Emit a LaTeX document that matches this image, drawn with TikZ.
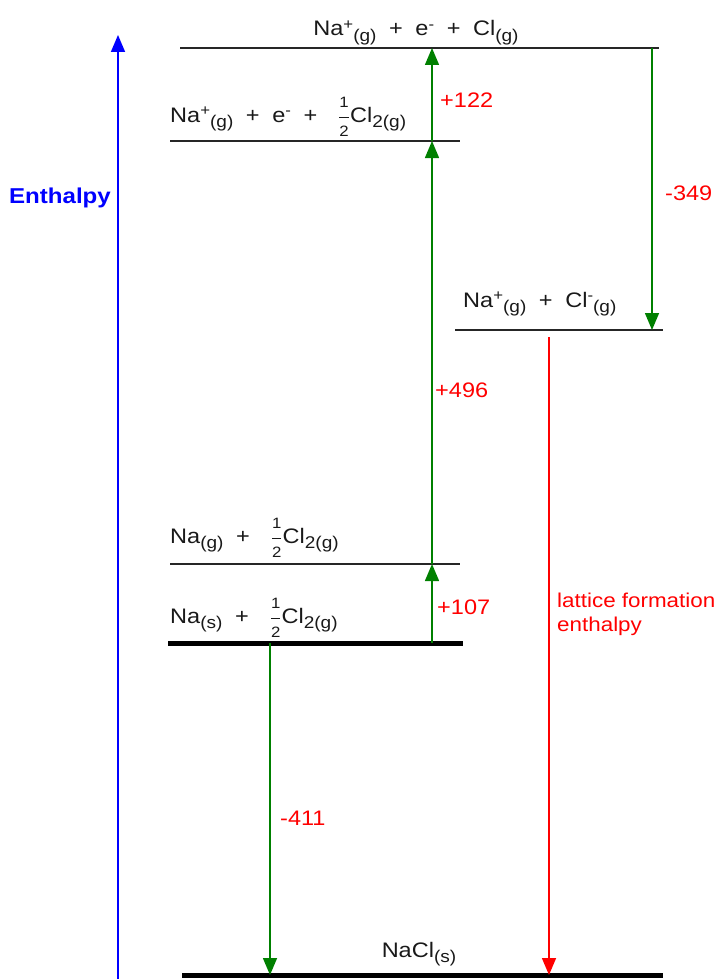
\documentclass[tikz,border=0pt]{standalone}
\usepackage{amsmath}
\usepackage{fontspec}
\setmainfont{Liberation Sans}[FakeStretch=1.12]
\usetikzlibrary{arrows.meta,calc}
\definecolor{enthblue}{RGB}{0,0,255}
\definecolor{stepgreen}{RGB}{0,128,0}
\definecolor{latred}{RGB}{255,0,0}
\tikzset{
  lvl/.style     ={line width=1.6pt, draw=black!85},
  lvlthick/.style={line width=5pt, draw=black},
  garr/.style    ={-{Triangle[length=17pt,width=14pt]}, line width=1.5pt, draw=stepgreen, fill=stepgreen},
  rarr/.style    ={-{Triangle[length=17pt,width=14pt]}, line width=1.5pt, draw=latred, fill=latred},
  barr/.style    ={-{Triangle[length=17pt,width=14pt]}, line width=1.6pt, draw=enthblue, fill=enthblue},
  spc/.style     ={text=black!90, inner sep=0pt, font=\fontsize{21}{25}\selectfont},
  val/.style     ={text=latred, inner sep=0pt, anchor=west, font=\fontsize{21}{25}\selectfont},
}
\newcommand{\subs}[1]{\raisebox{-0.28em}{\fontsize{17}{19}\selectfont#1}}
\newcommand{\phase}[1]{\subs{(#1)}}
\newcommand{\charge}[1]{\raisebox{0.3em}{\fontsize{15}{17}\selectfont#1}}
\newcommand{\digit}[1]{\text{\fontsize{15}{15}\selectfont#1}}
\newcommand{\half}{$\genfrac{}{}{0.5pt}{0}{\digit{1}}{\digit{2}}$}
\newcommand{\plusgap}{\hspace{0.6em}+\hspace{0.6em}}

\begin{document}
\begin{tikzpicture}[x=1pt, y=-1pt]
  \useasboundingbox (0,0) rectangle (718,979);
  % energy levels
  \coordinate (top-l)   at (180,48);  \coordinate (top-r)   at (659,48);
  \coordinate (half-l)  at (170,141); \coordinate (half-r)  at (460,141);
  \coordinate (ions-l)  at (455,330); \coordinate (ions-r)  at (663,330);
  \coordinate (gas-l)   at (170,564); \coordinate (gas-r)   at (460,564);
  \coordinate (solid-l) at (168,643); \coordinate (solid-r) at (463,643);
  \coordinate (nacl-l)  at (182,975); \coordinate (nacl-r)  at (663,975);
  \draw[lvl]      (top-l)   -- (top-r);
  \draw[lvl]      (half-l)  -- (half-r);
  \draw[lvl]      (ions-l)  -- (ions-r);
  \draw[lvl]      (gas-l)   -- (gas-r);
  \draw[lvlthick] (solid-l) -- (solid-r);
  \draw[lvlthick] (nacl-l)  -- (nacl-r);

  \node[spc, anchor=base]      (top)   at (416,36)  {Na\charge{+}\phase{g}\plusgap e\charge{-}\plusgap Cl\phase{g}};
  \node[spc, anchor=base west] (half)  at (170,122) {Na\charge{+}\phase{g}\plusgap e\charge{-}\plusgap\hspace{0.4em}\half Cl\subs{2(g)}};
  \node[spc, anchor=base west] (ions)  at (463,307) {Na\charge{+}\phase{g}\plusgap Cl\charge{-}\phase{g}};
  \node[spc, anchor=base west] (gas)   at (170,543) {Na\phase{g}\plusgap\hspace{0.4em}\half Cl\subs{2(g)}};
  \node[spc, anchor=base west] (solid) at (170,623) {Na\phase{s}\plusgap\hspace{0.4em}\half Cl\subs{2(g)}};
  \node[spc, anchor=base]      (nacl)  at (419,957) {NaCl\phase{s}};

  % enthalpy axis
  \coordinate (axis-lo) at (118,979);
  \coordinate (axis-hi) at (118,35);
  \draw[barr] (axis-lo) -- (axis-hi);
  \node[text=enthblue, anchor=east, inner sep=0pt, font=\fontsize{21.5}{25}\selectfont\bfseries] (enth) at (111,198) {Enthalpy};

  % steps of the cycle
  \coordinate (up)   at (432,0);
  \coordinate (down) at (652,0);
  \coordinate (form) at (270,0);
  \coordinate (latt) at (549,0);
  \draw[garr] (solid-l -| up)  -- (gas-l -| up);
  \draw[garr] (gas-l -| up)    -- (half-l -| up);
  \draw[garr] (half-l -| up)   -- (top-l -| up);
  \draw[garr] (top-l -| down)  -- (ions-l -| down);
  \draw[garr] (solid-l -| form) -- (nacl-l -| form);
  \draw[rarr] ($(ions-l -| latt)+(0,7)$) -- (nacl-l -| latt);

  \node[val] (h107) at (437,607) {+107};
  \node[val] (h496) at (435,390) {+496};
  \node[val] (h122) at (440,100) {+122};
  \node[val] (h349) at (665,193) {-349};
  \node[val] (h411) at (280,818) {-411};
  \node[val, anchor=north west, align=left, font=\fontsize{20}{24}\selectfont] (hlat) at (557,593) {lattice formation\\enthalpy};
\end{tikzpicture}
\end{document}
